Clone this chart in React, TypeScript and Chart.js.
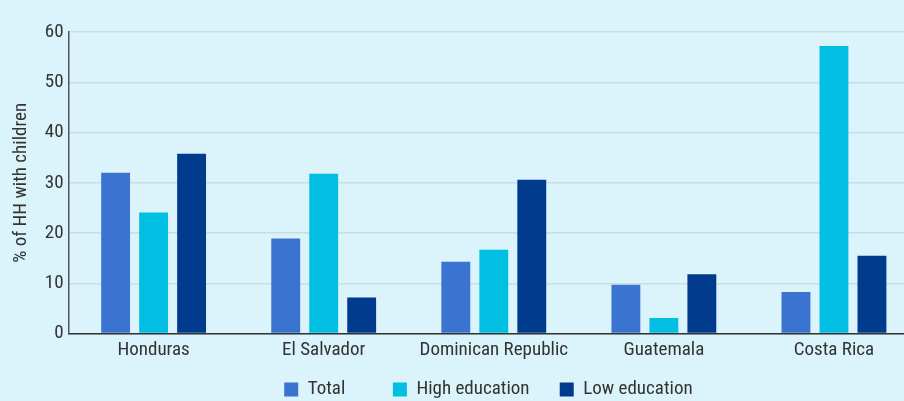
import React, { useEffect, useRef } from "react";
import { Chart, registerables } from "chart.js";

Chart.register(...registerables);

const categories = ["Honduras", "El Salvador", "Dominican Republic", "Guatemala", "Costa Rica"];
const totalValues = [32.0, 18.9, 14.3, 9.7, 8.3];
const highEducation = [24.1, 31.8, 16.7, 3.1, 57.2];
const lowEducation = [35.8, 7.2, 30.6, 11.8, 15.5];
const yTicks = [0, 10, 20, 30, 40, 50, 60];
const legendTrail = [" ".repeat(10), " ".repeat(6), " ".repeat(51)];

const BG = "#dbf3fa";
const FONT = "'Roboto Condensed', Roboto, 'Noto Sans', sans-serif";
const TXT = "#333333";

const bgPlugin = {
  id: "bg",
  beforeDraw(chart: any) {
    const { ctx, width, height } = chart;
    ctx.save();
    ctx.fillStyle = BG;
    ctx.fillRect(0, 0, width, height);
    ctx.restore();
  },
};

export default function App() {
  const ref = useRef<HTMLCanvasElement | null>(null);
  useEffect(() => {
    document.body.style.margin = "0";
    document.body.style.background = BG;
    document.body.style.overflow = "hidden";
    document.documentElement.style.overflow = "hidden";
    const chart = new Chart(ref.current!, {
      type: "bar",
      data: {
        labels: categories,
        datasets: [
          { label: "Total", data: totalValues, backgroundColor: "#3b73d1" },
          { label: "High education", data: highEducation, backgroundColor: "#00bfe2" },
          { label: "Low education", data: lowEducation, backgroundColor: "#003b8e" },
        ],
      },
      options: {
        animation: false,
        responsive: false,
        maintainAspectRatio: false,
        datasets: { bar: { categoryPercentage: 0.67, barPercentage: 0.76 } },
        layout: { padding: { left: 10, right: 0, top: 32, bottom: -8 } },
        plugins: {
          legend: {
            position: "bottom",
            align: "end",
            title: { display: true, text: " ", font: { size: 8 }, padding: 0 },
            labels: {
              boxWidth: 14,
              boxHeight: 14,
              padding: 4,
              color: TXT,
              font: { family: FONT, size: 19 },
              generateLabels(chart: any) {
                const items = Chart.defaults.plugins.legend.labels.generateLabels(chart);
                return items.map((it: any, i: number) => ({ ...it, text: it.text + legendTrail[i], lineWidth: 0 }));
              },
            },
          },
          tooltip: { enabled: false },
        },
        scales: {
          x: {
            grid: { display: false, drawTicks: false },
            border: { display: true, color: TXT, width: 1.5 },
            ticks: { color: TXT, font: { family: FONT, size: 19 }, padding: 5 },
          },
          y: {
            min: 0,
            max: 60,
            afterBuildTicks(axis: any) {
              axis.ticks = yTicks.map((v) => ({ value: v }));
            },
            grid: { color: "#c9dde4", lineWidth: 1.5, drawTicks: false },
            border: { display: true, color: "#555555", width: 1.5 },
            ticks: { color: TXT, font: { family: FONT, size: 19 }, padding: 5 },
            title: {
              display: true,
              text: "% of HH with children",
              color: TXT,
              font: { family: FONT, size: 19 },
              padding: { top: 0, bottom: 7 },
            },
          },
        },
      },
      plugins: [bgPlugin],
    });
    return () => chart.destroy();
  }, []);
  return <canvas ref={ref} width={919} height={401} style={{ display: "block" }} />;
}
